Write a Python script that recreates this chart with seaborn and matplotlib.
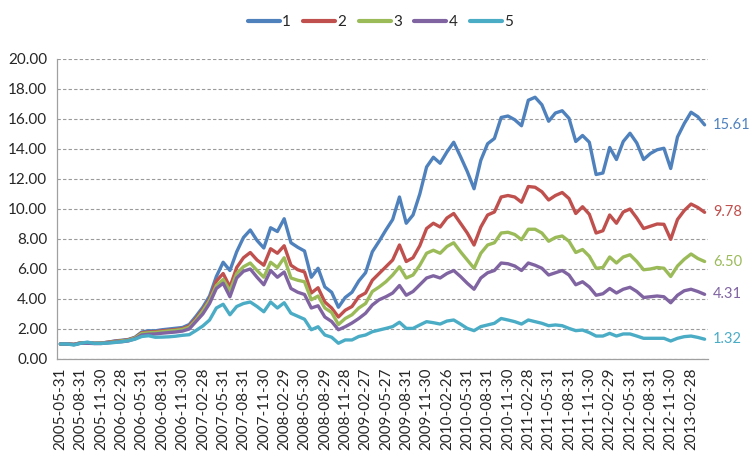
import matplotlib
matplotlib.use("Agg")
import matplotlib.pyplot as plt
import numpy as np
import pandas as pd
import seaborn as sns

series_names = ["1", "2", "3", "4", "5"]

tick_labels = ["2005-05-31", "2005-08-31", "2005-11-30", "2006-02-28", "2006-05-31",
               "2006-08-31", "2006-11-30", "2007-02-28", "2007-05-31", "2007-08-31",
               "2007-11-30", "2008-02-29", "2008-05-30", "2008-08-29", "2008-11-28",
               "2009-02-27", "2009-05-27", "2009-08-31", "2009-11-30", "2010-02-26",
               "2010-05-31", "2010-08-31", "2010-11-30", "2011-02-28", "2011-05-31",
               "2011-08-31", "2011-11-30", "2012-02-29", "2012-05-31", "2012-08-31",
               "2012-11-30", "2013-02-28"]

s1 = [1.00, 1.00, 0.97, 1.08, 1.10, 1.05, 1.06, 1.12, 1.20, 1.25, 1.30, 1.45,
      1.80, 1.88, 1.88, 1.95, 2.00, 2.05, 2.10, 2.30, 2.85, 3.45, 4.20,
      5.50, 6.45, 5.90, 7.15, 8.10, 8.60, 7.90, 7.40, 8.75, 8.50, 9.35,
      7.75, 7.45, 7.20, 5.45, 6.05, 4.80, 4.45, 3.45,
      4.10, 4.45, 5.20, 5.75, 7.15, 7.85, 8.60, 9.30, 10.80, 9.05, 9.60, 11.00,
      12.80, 13.45, 13.05, 13.80, 14.45, 13.50, 12.50, 11.35, 13.25, 14.35, 14.70, 16.10, 16.20, 15.95,
      15.55, 17.25, 17.45, 16.95, 15.85, 16.40, 16.55, 16.05, 14.50, 14.90, 14.45, 12.30, 12.40,
      14.10, 13.30, 14.50, 15.05, 14.40, 13.30, 13.70, 13.95, 14.05, 12.70, 14.80, 15.70, 16.45, 16.15, 15.61]

s2 = [1.00, 1.00, 0.97, 1.08, 1.08, 1.05, 1.06, 1.12, 1.18, 1.22, 1.28, 1.42,
      1.75, 1.80, 1.82, 1.88, 1.92, 1.96, 2.02, 2.20, 2.70, 3.30, 4.00,
      5.20, 5.70, 4.80, 6.10, 6.75, 7.10, 6.60, 6.25, 7.35, 7.05, 7.55,
      6.25, 5.95, 5.80, 4.40, 4.75, 3.80, 3.40, 2.80,
      3.25, 3.50, 4.15, 4.40, 5.25, 5.70, 6.15, 6.60, 7.60, 6.50, 6.75, 7.55,
      8.70, 9.05, 8.80, 9.40, 9.70, 9.05, 8.40, 7.60, 8.80, 9.60, 9.80, 10.80, 10.90, 10.80,
      10.45, 11.50, 11.45, 11.15, 10.60, 10.90, 11.10, 10.70, 9.70, 10.15, 9.65, 8.40, 8.55,
      9.60, 9.05, 9.80, 10.00, 9.40, 8.70, 8.85, 9.00, 8.98, 7.98, 9.30, 9.90, 10.33, 10.10, 9.78]

s3 = [1.00, 1.00, 0.97, 1.07, 1.07, 1.04, 1.05, 1.10, 1.15, 1.20, 1.25, 1.40,
      1.70, 1.75, 1.77, 1.82, 1.87, 1.91, 1.97, 2.12, 2.60, 3.20, 3.90,
      4.90, 5.30, 4.55, 5.70, 6.15, 6.40, 5.90, 5.45, 6.45, 6.10, 6.75,
      5.40, 5.25, 5.15, 3.95, 4.20, 3.40, 3.10, 2.30,
      2.70, 2.95, 3.40, 3.70, 4.50, 4.80, 5.15, 5.60, 6.15, 5.40, 5.60, 6.25,
      7.05, 7.25, 7.05, 7.50, 7.75, 7.15, 6.60, 6.05, 7.05, 7.60, 7.75, 8.40, 8.45, 8.30,
      7.95, 8.65, 8.65, 8.40, 7.85, 8.10, 8.20, 7.85, 7.10, 7.30, 6.85, 6.05, 6.10,
      6.80, 6.40, 6.80, 6.95, 6.50, 5.95, 6.00, 6.10, 6.05, 5.50, 6.20, 6.65, 7.00, 6.70, 6.50]

s4 = [1.00, 1.00, 0.97, 1.05, 1.05, 1.03, 1.03, 1.08, 1.12, 1.15, 1.20, 1.35,
      1.60, 1.65, 1.67, 1.72, 1.76, 1.80, 1.86, 2.00, 2.50, 3.00, 3.70,
      4.70, 5.05, 4.15, 5.40, 5.85, 6.00, 5.45, 4.95, 5.90, 5.45, 5.80,
      4.70, 4.45, 4.30, 3.40, 3.55, 2.80, 2.50, 1.95,
      2.15, 2.40, 2.70, 3.05, 3.60, 3.95, 4.15, 4.40, 4.90, 4.25, 4.50, 4.95,
      5.40, 5.55, 5.40, 5.70, 5.90, 5.50, 5.05, 4.65, 5.40, 5.75, 5.90, 6.40, 6.35, 6.20,
      5.90, 6.40, 6.25, 6.05, 5.60, 5.75, 5.90, 5.60, 4.95, 5.15, 4.80, 4.25, 4.35,
      4.70, 4.40, 4.65, 4.78, 4.50, 4.10, 4.15, 4.20, 4.15, 3.75, 4.25, 4.55, 4.65, 4.50, 4.31]

s5 = [1.00, 1.00, 0.93, 1.05, 1.12, 1.04, 1.04, 1.06, 1.10, 1.15, 1.22, 1.32,
      1.50, 1.55, 1.45, 1.46, 1.48, 1.52, 1.58, 1.62, 1.90, 2.20, 2.60,
      3.40, 3.65, 2.95, 3.50, 3.70, 3.80, 3.50, 3.15, 3.80, 3.40, 3.75,
      3.05, 2.85, 2.65, 1.95, 2.15, 1.60, 1.45, 1.05,
      1.27, 1.27, 1.50, 1.60, 1.82, 1.93, 2.04, 2.16, 2.45, 2.04, 2.04, 2.27,
      2.49, 2.42, 2.33, 2.53, 2.60, 2.33, 2.04, 1.89, 2.16, 2.27, 2.38, 2.70, 2.60, 2.49,
      2.33, 2.60, 2.49, 2.38, 2.22, 2.27, 2.22, 2.04, 1.89, 1.93, 1.76, 1.53, 1.53,
      1.71, 1.53, 1.67, 1.67, 1.53, 1.38, 1.38, 1.38, 1.38, 1.20, 1.38, 1.49, 1.53, 1.44, 1.32]

colors = ["#4F81BD", "#C0504D", "#9BBB59", "#8064A2", "#4BACC6"]

all_series = [s1, s2, s3, s4, s5]
n = len(s1)
frames = []
for name, vals in zip(series_names, all_series):
    frames.append(pd.DataFrame({"idx": np.arange(len(vals)), "value": vals, "series": name}))
df = pd.concat(frames, ignore_index=True)

sns.set_style("white")
plt.rcParams["font.family"] = ["Lato", "DejaVu Sans"]

fig = plt.figure(figsize=(7.53, 4.59), dpi=100)
ax = fig.add_axes([57 / 753, 1 - 359 / 459, (708 - 57) / 753, 300 / 459])

sns.lineplot(data=df, x="idx", y="value", hue="series", palette=colors,
             linewidth=2.4, ax=ax, legend=False, solid_capstyle="round")

ax.set_xlim(-0.5, n - 0.5)
ax.set_ylim(0, 20)
ax.set_yticks(np.arange(0, 20.01, 2))
ax.set_yticklabels([f"{v:.2f}" for v in np.arange(0, 20.01, 2)], fontsize=11, color="#262626")
ax.set_xticks(np.arange(0, len(tick_labels) * 3, 3))
ax.set_xticklabels(tick_labels, rotation=90, fontsize=11, color="#262626")
ax.set_xticks(np.arange(-0.5, n, 1.0), minor=True)
ax.tick_params(axis="x", which="major", length=0, pad=6)
ax.tick_params(axis="x", which="minor", length=4, color="#A0A0A0", width=0.8, direction="out")
ax.tick_params(axis="y", length=4, color="#A0A0A0", width=0.8, direction="out", pad=3)
ax.set_xlabel("")
ax.set_ylabel("")

ax.yaxis.grid(True, linestyle=(0, (3, 2)), color="#9A9A9A", linewidth=0.8)
ax.xaxis.grid(False)
ax.set_axisbelow(True)
for sp in ["top", "right"]:
    ax.spines[sp].set_visible(False)
for sp in ["left", "bottom"]:
    ax.spines[sp].set_color("#A0A0A0")
    ax.spines[sp].set_linewidth(0.9)

for name, vals, c in zip(series_names, all_series, colors):
    ax.annotate(f"{vals[-1]:.2f}", xy=(n - 1, vals[-1]), xytext=(6, 0),
                textcoords="offset points", va="center", ha="left",
                fontsize=10.5, color=c, annotation_clip=False)

handles = [plt.Line2D([0], [0], color=c, linewidth=3) for c in colors]
fig.legend(handles, series_names, loc="center", bbox_to_anchor=(0.505, 0.952),
           ncol=5, frameon=False, fontsize=11, handlelength=2.1,
           handletextpad=0.15, columnspacing=0.8)

fig.savefig("out.png", dpi=100)
